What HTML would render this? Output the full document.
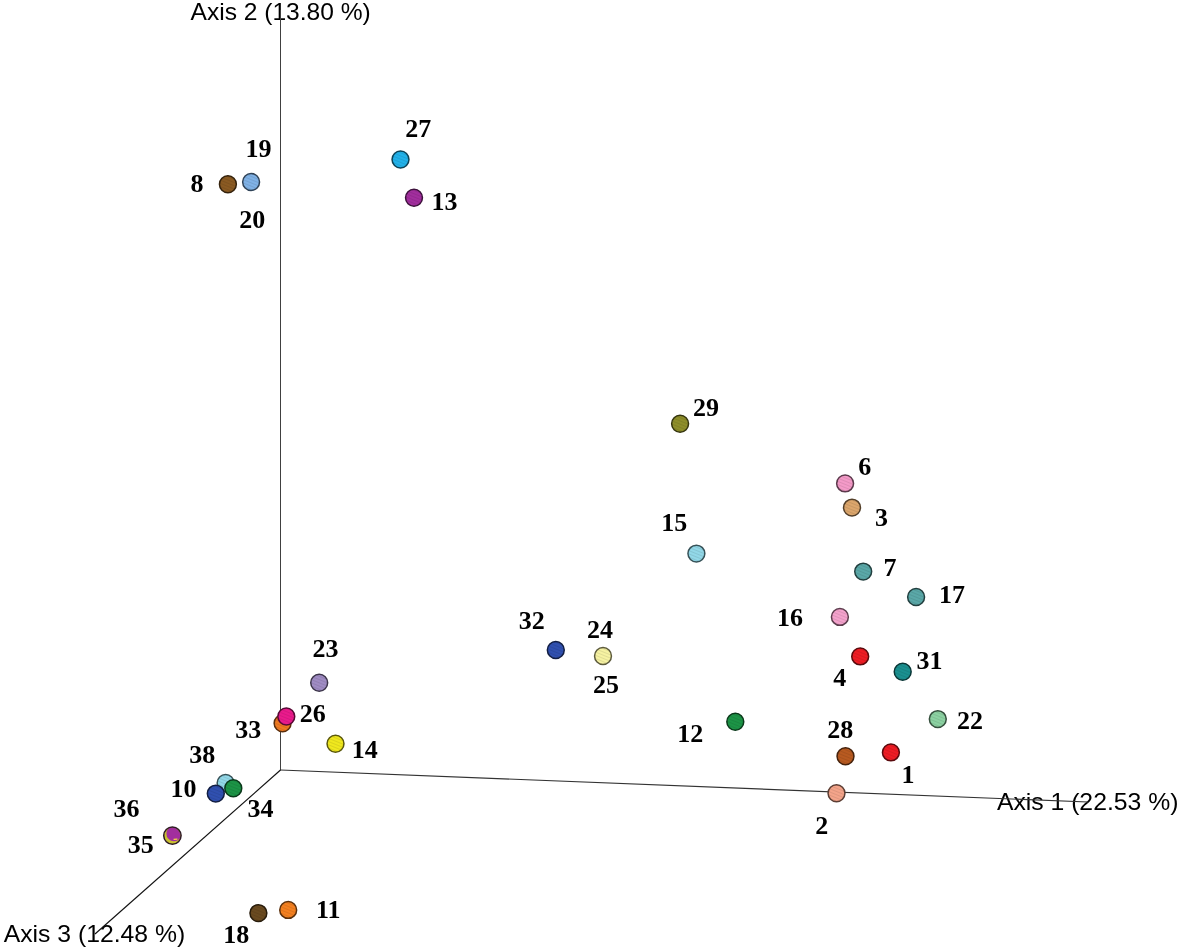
<!DOCTYPE html>
<html><head><meta charset="utf-8"><style>
html,body{margin:0;padding:0;background:#fff;width:1179px;height:950px;overflow:hidden}
svg{display:block}
#w{position:absolute;left:0;top:0;width:1179px;height:950px;will-change:transform}
.ax{font-family:"Liberation Sans",sans-serif;font-size:24px;fill:#000}
.lb{font-family:"Liberation Serif",serif;font-weight:bold;font-size:26px;fill:#000}
</style></head><body>
<div id="w"><svg width="1179" height="950" viewBox="0 0 1179 950">
<text class="ax" id="a2" x="190.50" y="20.00" textLength="180.3" lengthAdjust="spacingAndGlyphs">Axis 2 (13.80 %)</text>
<text class="ax" id="a1" x="996.90" y="810.00" textLength="181.5" lengthAdjust="spacingAndGlyphs">Axis 1 (22.53 %)</text>
<text class="ax" id="a3" x="3.70" y="942.20" textLength="181.5" lengthAdjust="spacingAndGlyphs">Axis 3 (12.48 %)</text>
<g fill="none"><line x1="280.5" y1="10" x2="280.5" y2="770.5" stroke="#404040" stroke-width="1"/><line x1="280.5" y1="770" x2="1088" y2="802" stroke="#333" stroke-width="1.1"/><line x1="280.5" y1="770" x2="95" y2="934" stroke="#111" stroke-width="1.15"/></g>
<defs><pattern id="h" width="3" height="3" patternUnits="userSpaceOnUse" patternTransform="rotate(22)"><rect width="3" height="1" fill="rgba(0,0,0,0.09)"/></pattern></defs>
<circle cx="227.9" cy="184.3" r="8.45" fill="#8a5a22" stroke="#34220c" stroke-width="1.50"/>
<circle cx="227.9" cy="184.3" r="7.75" fill="url(#h)"/>
<circle cx="251.1" cy="182.0" r="8.45" fill="#80b2e6" stroke="#304357" stroke-width="1.50"/>
<circle cx="251.1" cy="182.0" r="7.75" fill="url(#h)"/>
<circle cx="400.5" cy="159.5" r="8.45" fill="#22b2ea" stroke="#0c4358" stroke-width="1.50"/>
<circle cx="400.5" cy="159.5" r="7.75" fill="url(#h)"/>
<circle cx="414.0" cy="197.7" r="8.45" fill="#a22e9e" stroke="#3d113c" stroke-width="1.50"/>
<circle cx="414.0" cy="197.7" r="7.75" fill="url(#h)"/>
<circle cx="680.1" cy="423.8" r="8.45" fill="#8e8e2a" stroke="#35350f" stroke-width="1.50"/>
<circle cx="680.1" cy="423.8" r="7.75" fill="url(#h)"/>
<circle cx="845.1" cy="483.4" r="8.45" fill="#f49ac8" stroke="#5c3a4c" stroke-width="1.50"/>
<circle cx="845.1" cy="483.4" r="7.75" fill="url(#h)"/>
<circle cx="852.0" cy="507.6" r="8.45" fill="#dca66c" stroke="#533f29" stroke-width="1.50"/>
<circle cx="852.0" cy="507.6" r="7.75" fill="url(#h)"/>
<circle cx="696.4" cy="553.6" r="8.45" fill="#92d8e8" stroke="#375258" stroke-width="1.50"/>
<circle cx="696.4" cy="553.6" r="7.75" fill="url(#h)"/>
<circle cx="863.2" cy="571.6" r="8.45" fill="#5aa8a8" stroke="#223f3f" stroke-width="1.50"/>
<circle cx="863.2" cy="571.6" r="7.75" fill="url(#h)"/>
<circle cx="916.1" cy="597.0" r="8.45" fill="#5aa8a8" stroke="#223f3f" stroke-width="1.50"/>
<circle cx="916.1" cy="597.0" r="7.75" fill="url(#h)"/>
<circle cx="839.9" cy="616.9" r="8.45" fill="#f4a2cc" stroke="#5c3d4d" stroke-width="1.50"/>
<circle cx="839.9" cy="616.9" r="7.75" fill="url(#h)"/>
<circle cx="860.2" cy="656.4" r="8.45" fill="#ee1c24" stroke="#5a0a0d" stroke-width="1.50"/>
<circle cx="860.2" cy="656.4" r="7.75" fill="url(#h)"/>
<circle cx="902.7" cy="671.7" r="8.45" fill="#1a9090" stroke="#093636" stroke-width="1.50"/>
<circle cx="902.7" cy="671.7" r="7.75" fill="url(#h)"/>
<circle cx="735.3" cy="721.8" r="8.45" fill="#1c9446" stroke="#0a381a" stroke-width="1.50"/>
<circle cx="735.3" cy="721.8" r="7.75" fill="url(#h)"/>
<circle cx="845.5" cy="756.2" r="8.45" fill="#b85a20" stroke="#45220c" stroke-width="1.50"/>
<circle cx="845.5" cy="756.2" r="7.75" fill="url(#h)"/>
<circle cx="937.8" cy="719.1" r="8.45" fill="#8cd2a2" stroke="#354f3d" stroke-width="1.50"/>
<circle cx="937.8" cy="719.1" r="7.75" fill="url(#h)"/>
<circle cx="890.9" cy="752.4" r="8.45" fill="#ee1c24" stroke="#5a0a0d" stroke-width="1.50"/>
<circle cx="890.9" cy="752.4" r="7.75" fill="url(#h)"/>
<circle cx="836.5" cy="793.2" r="8.45" fill="#f4a48a" stroke="#5c3e34" stroke-width="1.50"/>
<circle cx="836.5" cy="793.2" r="7.75" fill="url(#h)"/>
<circle cx="555.8" cy="650.0" r="8.45" fill="#3050b0" stroke="#121e42" stroke-width="1.50"/>
<circle cx="555.8" cy="650.0" r="7.75" fill="url(#h)"/>
<circle cx="603.0" cy="656.0" r="8.45" fill="#f6f2a2" stroke="#5d5b3d" stroke-width="1.50"/>
<circle cx="603.0" cy="656.0" r="7.75" fill="url(#h)"/>
<circle cx="319.2" cy="682.8" r="8.45" fill="#a08cc4" stroke="#3c354a" stroke-width="1.50"/>
<circle cx="319.2" cy="682.8" r="7.75" fill="url(#h)"/>
<circle cx="282.6" cy="723.3" r="8.45" fill="#f07a20" stroke="#5b2e0c" stroke-width="1.50"/>
<circle cx="282.6" cy="723.3" r="7.75" fill="url(#h)"/>
<circle cx="286.3" cy="716.5" r="8.45" fill="#ea1a8c" stroke="#580935" stroke-width="1.50"/>
<circle cx="286.3" cy="716.5" r="7.75" fill="url(#h)"/>
<circle cx="335.5" cy="743.7" r="8.45" fill="#f0e81e" stroke="#5b580b" stroke-width="1.50"/>
<circle cx="335.5" cy="743.7" r="7.75" fill="url(#h)"/>
<circle cx="225.6" cy="783.0" r="8.45" fill="#92d8e8" stroke="#375258" stroke-width="1.50"/>
<circle cx="225.6" cy="783.0" r="7.75" fill="url(#h)"/>
<circle cx="233.3" cy="788.2" r="8.45" fill="#1c9446" stroke="#0a381a" stroke-width="1.50"/>
<circle cx="233.3" cy="788.2" r="7.75" fill="url(#h)"/>
<circle cx="215.8" cy="793.6" r="8.45" fill="#3050b0" stroke="#121e42" stroke-width="1.50"/>
<circle cx="215.8" cy="793.6" r="7.75" fill="url(#h)"/>
<circle cx="258.4" cy="913.1" r="8.45" fill="#6a4a20" stroke="#281c0c" stroke-width="1.50"/>
<circle cx="258.4" cy="913.1" r="7.75" fill="url(#h)"/>
<circle cx="288.2" cy="909.9" r="8.45" fill="#f48020" stroke="#5c300c" stroke-width="1.50"/>
<circle cx="288.2" cy="909.9" r="7.75" fill="url(#h)"/>
<clipPath id="c35"><circle cx="172.4" cy="835.6" r="8.0"/></clipPath>
<circle cx="172.4" cy="835.6" r="8.7" fill="#c9c030"/>
<circle cx="174.0" cy="833.7" r="7.6" fill="#a22e9e" clip-path="url(#c35)"/>
<circle cx="172.4" cy="835.6" r="8.7" fill="none" stroke="#2e1a26" stroke-width="1.5"/>
<path d="M173.6,839.4 L177.4,839.1" fill="none" stroke="#f0e040" stroke-width="1.2"/>
<text class="lb" id="L8" x="190.40" y="192.30">8</text>
<text class="lb" id="L19" x="245.60" y="156.70">19</text>
<text class="lb" id="L20" x="239.30" y="228.15">20</text>
<text class="lb" id="L27" x="405.20" y="136.50">27</text>
<text class="lb" id="L13" x="431.60" y="209.60">13</text>
<text class="lb" id="L29" x="693.10" y="415.70">29</text>
<text class="lb" id="L6" x="858.20" y="474.65">6</text>
<text class="lb" id="L3" x="875.05" y="526.10">3</text>
<text class="lb" id="L15" x="661.30" y="530.75">15</text>
<text class="lb" id="L7" x="883.55" y="576.40">7</text>
<text class="lb" id="L17" x="938.90" y="602.65">17</text>
<text class="lb" id="L16" x="777.05" y="625.65">16</text>
<text class="lb" id="L4" x="833.30" y="686.45">4</text>
<text class="lb" id="L31" x="916.55" y="668.85">31</text>
<text class="lb" id="L12" x="677.15" y="742.30">12</text>
<text class="lb" id="L28" x="827.35" y="737.85">28</text>
<text class="lb" id="L22" x="957.10" y="729.05">22</text>
<text class="lb" id="L1" x="901.40" y="783.05">1</text>
<text class="lb" id="L2" x="815.20" y="834.05">2</text>
<text class="lb" id="L32" x="518.85" y="629.40">32</text>
<text class="lb" id="L24" x="587.00" y="638.30">24</text>
<text class="lb" id="L25" x="593.00" y="692.85">25</text>
<text class="lb" id="L23" x="312.60" y="657.35">23</text>
<text class="lb" id="L26" x="299.65" y="722.40">26</text>
<text class="lb" id="L33" x="235.30" y="737.60">33</text>
<text class="lb" id="L14" x="351.65" y="758.15">14</text>
<text class="lb" id="L38" x="189.30" y="762.85">38</text>
<text class="lb" id="L10" x="170.40" y="797.20">10</text>
<text class="lb" id="L36" x="113.40" y="816.85">36</text>
<text class="lb" id="L35" x="127.65" y="852.85">35</text>
<text class="lb" id="L34" x="247.55" y="816.60">34</text>
<text class="lb" id="L18" x="223.25" y="942.90">18</text>
<text class="lb" id="L11" x="316.00" y="918.15">11</text>
</svg></div>
</body></html>
